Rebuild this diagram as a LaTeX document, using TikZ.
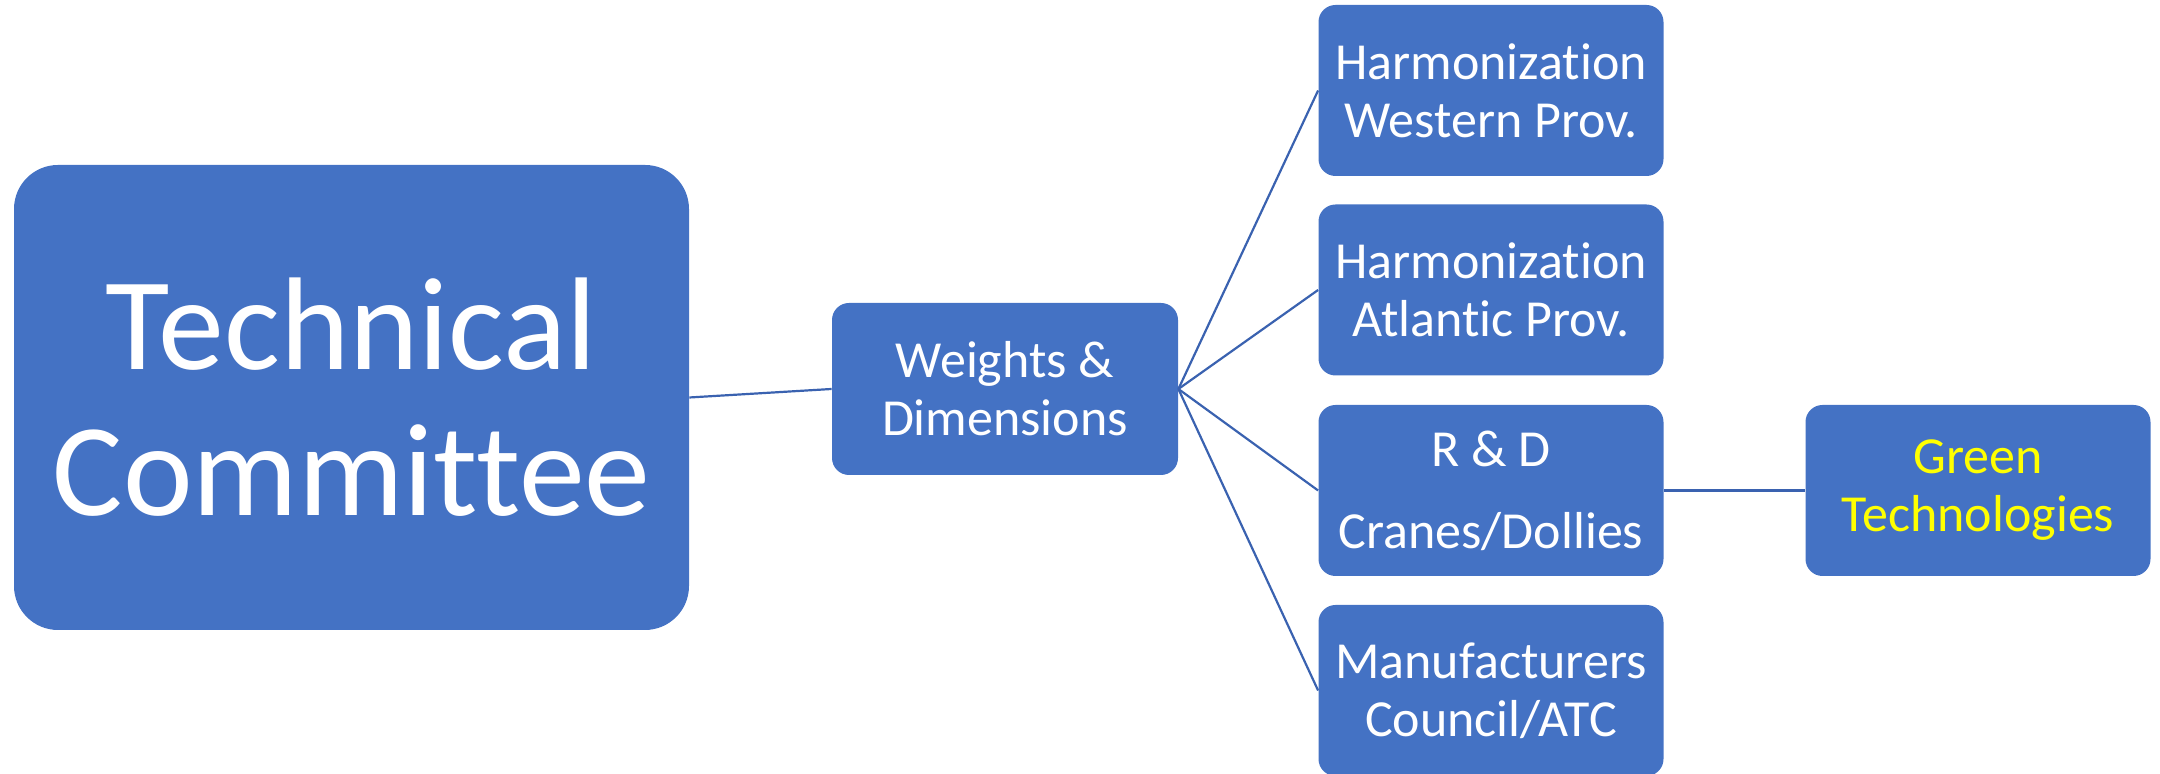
\documentclass[tikz,border=0pt]{standalone}
\usepackage{fontspec}
\setmainfont{Carlito}[RawFeature={-liga}]
\definecolor{BoxBlue}{RGB}{68, 114, 196}
\definecolor{LinkBlue}{RGB}{58, 98, 176}
\definecolor{TextYellow}{RGB}{255, 255, 0}
\newcommand{\lw}{1.1pt}

\begin{document}
\begin{tikzpicture}[x=1pt, y=1pt,
  box/.style={fill=BoxBlue, text=white, rounded corners=8.5pt, align=center,
    inner sep=0pt, minimum width=172.5pt, minimum height=85.5pt,
    font=\fontsize{26}{29}\selectfont},
  link/.style={draw=LinkBlue, line width=\lw}]
  \useasboundingbox (0,0) rectangle (1080,387);
  \node[box, minimum width=337.5pt, minimum height=232.5pt, rounded corners=22pt,
    font=\fontsize{66}{73}\selectfont] (tc) at (175.75, 188.25) {Technical\\Committee};
  \node[box, minimum width=173pt, minimum height=86pt] (wd) at (502.5, 192.5) {Weights \&\\Dimensions};
  \node[box] (west)  at (745.5, 341.75) {Harmonization\\Western Prov.};
  \node[box] (atl)   at (745.5, 242)    {Harmonization\\Atlantic Prov.};
  \node[box] (rd)    at (745.5, 141.75) {R \& D\\[12pt]Cranes/Dollies};
  \node[box] (manuf) at (745.5, 41.75)  {Manufacturers\\Council/ATC};
  \node[box, text=TextYellow] (green) at (989, 141.75) {Green\\Technologies};
  \draw[link] (tc.east) -- (wd.west);
  \draw[link] (wd.east) -- (west.west);
  \draw[link] (wd.east) -- (atl.west);
  \draw[link] (wd.east) -- (rd.west);
  \draw[link] (wd.east) -- (manuf.west);
  \draw[link] (rd.east) -- (green.west);
\end{tikzpicture}
\end{document}
